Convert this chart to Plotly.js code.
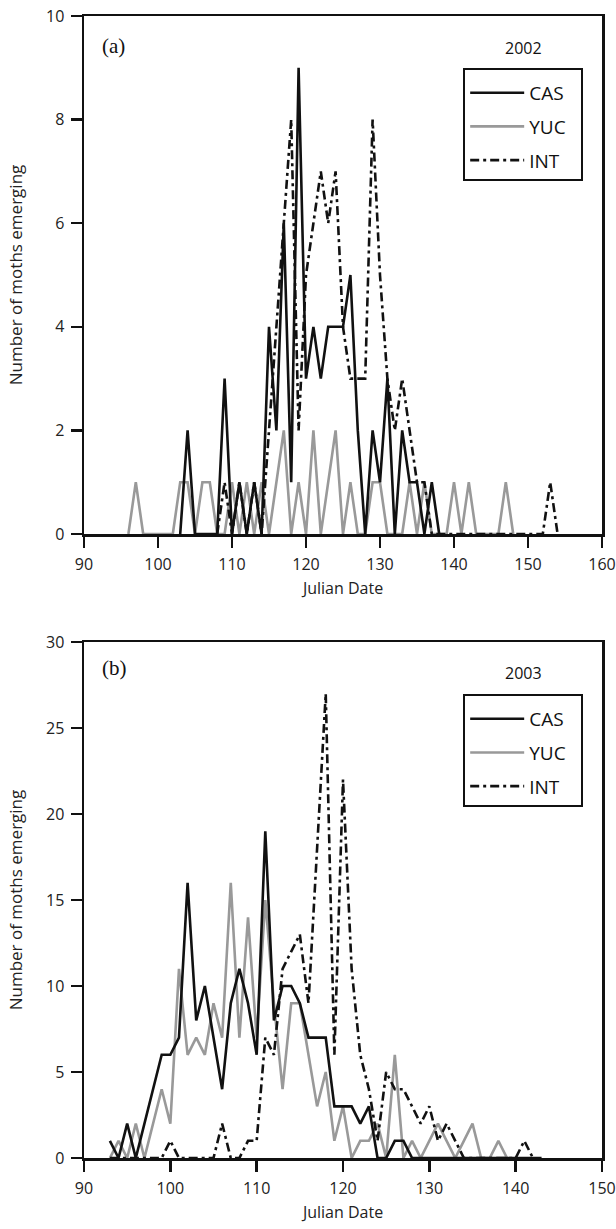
<!DOCTYPE html>
<html>
<head>
<meta charset="utf-8">
<script src="https://cdn.plot.ly/plotly-3.0.1.min.js"></script>
<style>html,body{margin:0;padding:0;background:#fff;}#chart{width:616px;height:1229px;}</style>
</head>
<body>
<div id="chart"></div>
<script>
// ---- 2002 (panel a) ----
const cas02Days = [103,104,105,106,107,108,109,110,111,112,113,114,115,116,117,118,119,120,121,122,123,124,125,126,127,128,129,130,131,132,133,134,135,136,137,138];
const cas02Vals = [0,2,0,0,0,0,3,0,1,0,1,0,4,2,6,1,9,3,4,3,4,4,4,5,2,0,2,1,3,0,2,1,1,0,1,0];

const yuc02Days = [96,97,98,99,100,101,102,103,104,105,106,107,108,109,110,111,112,113,114,115,116,117,118,119,120,121,122,123,124,125,126,127,128,129,130,131,132,133,134,135,136,137,138,139,140,141,142,143,144,145,146,147,148];
const yuc02Vals = [0,1,0,0,0,0,0,1,1,0,1,1,0,0,1,0,1,0,1,0,1,2,0,1,0,2,0,1,2,0,1,0,0,1,1,0,0,0,1,0,1,0,0,0,1,0,1,0,0,0,0,1,0];

const int02Days = [108,109,110,111,112,113,114,115,116,117,118,119,120,121,122,123,124,125,126,127,128,129,130,131,132,133,134,135,136,137,138,139,140,141,142,143,144,145,146,147,148,149,150,151,152,153,154];
const int02Vals = [0,1,0,1,0,1,0,2,4,6,8,2,5,6,7,6,7,4,3,3,3,8,5,3,2,3,2,1,1,0,0,0,0,0,0,0,0,0,0,0,0,0,0,0,0,1,0];

// ---- 2003 (panel b) ----
const cas03Days = [93,94,95,96,97,98,99,100,101,102,103,104,105,106,107,108,109,110,111,112,113,114,115,116,117,118,119,120,121,122,123,124,125,126,127,128,129,130,131,132,133,134,135,136,137,138,139,140,141,142,143];
const cas03Vals = [1,0,2,0,2,4,6,6,7,16,8,10,7,4,9,11,9,6,19,8,10,10,9,7,7,7,3,3,3,2,3,0,0,1,1,0,0,0,0,0,0,0,0,0,0,0,0,0,0,0,0];

const yuc03Days = [93,94,95,96,97,98,99,100,101,102,103,104,105,106,107,108,109,110,111,112,113,114,115,116,117,118,119,120,121,122,123,124,125,126,127,128,129,130,131,132,133,134,135,136,137,138,139];
const yuc03Vals = [0,1,0,2,0,2,4,2,11,6,7,6,9,7,16,7,14,7,15,9,4,9,9,6,3,5,1,3,0,1,1,2,0,6,0,1,0,1,2,1,0,1,2,0,0,1,0];

const int03Days = [93,94,95,96,97,98,99,100,101,102,103,104,105,106,107,108,109,110,111,112,113,114,115,116,117,118,119,120,121,122,123,124,125,126,127,128,129,130,131,132,133,134,135,136,137,138,139,140,141,142];
const int03Vals = [0,0,0,0,0,0,0,1,0,0,0,0,0,2,0,0,1,1,7,6,11,12,13,9,18,27,6,22,11,6,4,1,5,4,4,3,2,3,1,2,1,0,0,0,0,0,0,0,1,0];

const seriesNames = ['CAS','YUC','INT'];
const yearLabels = ['2002','2003'];
const panelLabels = ['(a)','(b)'];

const BLACK = '#111111', GREY = '#999999';
const INTDASH = '9px,4px,3px,4px';
const LW = 2.6;
const PAD = '\u00a0\u00a0';

function tr(x, y, name, color, dash, xa, ya, leg, rank) {
  return {
    type: 'scatter', mode: 'lines', x: x, y: y, name: name + PAD,
    xaxis: xa, yaxis: ya, legend: leg, legendgroup: leg + name, legendrank: rank,
    showlegend: true,
    line: {color: color, width: LW, dash: dash},
    hoverinfo: 'skip'
  };
}

const data = [
  tr(yuc02Days, yuc02Vals, seriesNames[1], GREY, 'solid', 'x', 'y', 'legend', 2),
  tr(int02Days, int02Vals, seriesNames[2], BLACK, INTDASH, 'x', 'y', 'legend', 3),
  tr(cas02Days, cas02Vals, seriesNames[0], BLACK, 'solid', 'x', 'y', 'legend', 1),
  tr(yuc03Days, yuc03Vals, seriesNames[1], GREY, 'solid', 'x2', 'y2', 'legend2', 2),
  tr(int03Days, int03Vals, seriesNames[2], BLACK, INTDASH, 'x2', 'y2', 'legend2', 3),
  tr(cas03Days, cas03Vals, seriesNames[0], BLACK, 'solid', 'x2', 'y2', 'legend2', 1)
];

const FONT = 'Open Sans, Lato, sans-serif';
const axisCommon = {
  showgrid: false, zeroline: false, showline: true, mirror: true,
  linecolor: BLACK, linewidth: 2.5,
  ticks: 'outside', ticklen: 11, tickwidth: 2.5, tickcolor: BLACK,
  tickfont: {family: FONT, size: 16, color: '#222'},
  ticklabelstandoff: 3, automargin: false, fixedrange: true
};

const legendCommon = {
  bordercolor: BLACK, borderwidth: 2, bgcolor: '#fff',
  font: {family: FONT, size: 19, color: '#111'},
  title: {text: '\u00a0', font: {family: FONT, size: 3}},
  tracegroupgap: 6, itemwidth: 54,
  xanchor: 'left', yanchor: 'top', traceorder: 'grouped'
};

const layout = {
  width: 616, height: 1229,
  margin: {l: 84, r: 14, t: 16, b: 71},
  paper_bgcolor: '#fff', plot_bgcolor: '#fff',
  showlegend: true,
  xaxis: Object.assign({}, axisCommon, {domain: [0,1], anchor: 'y', range: [90,160], dtick: 10,
    title: {text: 'Julian Date', font: {family: FONT, size: 16, color: '#222'}, standoff: 9}}),
  yaxis: Object.assign({}, axisCommon, {domain: [0.5464, 1], anchor: 'x', range: [0,10], dtick: 2,
    title: {text: 'Number of moths emerging', font: {family: FONT, size: 17, color: '#222'}, standoff: 19}}),
  xaxis2: Object.assign({}, axisCommon, {domain: [0,1], anchor: 'y2', range: [90,150], dtick: 10,
    title: {text: 'Julian Date', font: {family: FONT, size: 16, color: '#222'}, standoff: 9}}),
  yaxis2: Object.assign({}, axisCommon, {domain: [0, 0.4518], anchor: 'x2', range: [0,30], dtick: 5,
    title: {text: 'Number of moths emerging', font: {family: FONT, size: 17, color: '#222'}, standoff: 19}}),
  legend: Object.assign({}, legendCommon, {x: 0.732, y: 0.9545}),
  legend2: Object.assign({}, legendCommon, {x: 0.732, y: 0.4063}),
  annotations: [
    {xref: 'paper', yref: 'paper', x: 0.031, y: 0.9737, xanchor: 'left', yanchor: 'middle', showarrow: false,
     text: panelLabels[0], font: {family: 'Liberation Serif, serif', size: 21, color: '#111'}},
    {xref: 'paper', yref: 'paper', x: 0.031, y: 0.4290, xanchor: 'left', yanchor: 'middle', showarrow: false,
     text: panelLabels[1], font: {family: 'Liberation Serif, serif', size: 21, color: '#111'}},
    {xref: 'paper', yref: 'paper', x: 0.8494, y: 0.9720, xanchor: 'center', yanchor: 'middle', showarrow: false,
     text: yearLabels[0], font: {family: FONT, size: 16, color: '#111'}},
    {xref: 'paper', yref: 'paper', x: 0.8494, y: 0.4250, xanchor: 'center', yanchor: 'middle', showarrow: false,
     text: yearLabels[1], font: {family: FONT, size: 16, color: '#111'}}
  ]
};

Plotly.newPlot('chart', data, layout, {staticPlot: true, displayModeBar: false});
</script>
</body>
</html>
